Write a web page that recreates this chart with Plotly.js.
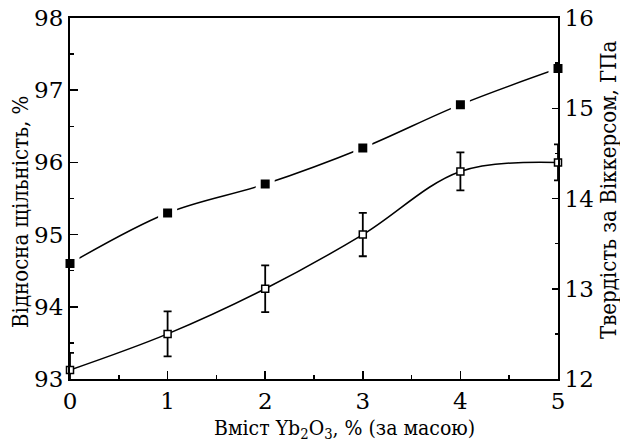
<!DOCTYPE html>
<html>
<head>
<meta charset="utf-8">
<script src="https://cdn.plot.ly/plotly-3.0.1.min.js"></script>
<style>html,body{margin:0;padding:0;background:#fff;}#chart{width:620px;height:444px;}</style>
</head>
<body>
<div id="chart"></div>
<script>
// Yb2O3 content, % (by mass)
const ybContent = [0, 1, 2, 3, 4, 5];
// Relative density, % (left axis, filled squares)
const relDensity = [94.6, 95.3, 95.7, 96.2, 96.8, 97.3];
// Vickers hardness, GPa (right axis, open squares)
const hardness = [12.1, 12.5, 13.0, 13.6, 14.3, 14.4];
const hardnessErr = [0.19, 0.25, 0.26, 0.24, 0.21, 0.2];

const xTitle = 'Вміст Yb<sub>2</sub>O<sub>3</sub>, % (за масою)';
const yTitle = 'Відносна щільність, %';
const y2Title = 'Твердість за Віккерсом, ГПа';

const tickFont = {family: 'DejaVu Serif', size: 23, color: '#000'};
const titleFont = {family: 'DejaVu Serif Condensed, DejaVu Serif', size: 22, color: '#000'};
const xTitleFont = {family: 'DejaVu Serif Condensed, DejaVu Serif', size: 21, color: '#000'};

const traces = [
  {
    x: ybContent, y: relDensity, yaxis: 'y', type: 'scatter', mode: 'lines+markers',
    line: {color: '#000', width: 1.5, shape: 'spline', smoothing: 1},
    marker: {symbol: 'square', size: 14, color: '#000', line: {color: '#fff', width: 5}},
    cliponaxis: false, showlegend: false
  },
  {
    x: ybContent, y: hardness, yaxis: 'y2', type: 'scatter', mode: 'lines+markers',
    line: {color: '#000', width: 1.5, shape: 'spline', smoothing: 1},
    marker: {symbol: 'square', size: 7, color: '#fff', line: {color: '#000', width: 1.5}},
    error_y: {type: 'data', array: hardnessErr, visible: true, color: '#000', thickness: 1.8, width: 4},
    cliponaxis: false, showlegend: false
  }
];

const layout = {
  width: 620, height: 444,
  margin: {l: 70, r: 62, t: 18, b: 65},
  paper_bgcolor: '#fff', plot_bgcolor: '#fff',
  font: {family: 'DejaVu Serif', size: 20, color: '#000'},
  xaxis: {
    range: [0, 5], dtick: 1, tick0: 0,
    showgrid: false, zeroline: false,
    showline: true, linecolor: '#000', linewidth: 2, mirror: true,
    ticks: 'inside', ticklen: 8, tickwidth: 1.5, tickcolor: '#000',
    minor: {dtick: 0.5, ticks: 'inside', ticklen: 4, tickwidth: 1.5, tickcolor: '#000'},
    tickfont: tickFont
  },
  yaxis: {
    range: [93, 98], dtick: 1,
    showgrid: false, zeroline: false,
    showline: true, linecolor: '#000', linewidth: 2,
    ticks: 'inside', ticklen: 8, tickwidth: 1.5, tickcolor: '#000',
    minor: {dtick: 0.5, ticks: 'inside', ticklen: 4, tickwidth: 1.5, tickcolor: '#000'},
    tickfont: tickFont
  },
  yaxis2: {
    range: [12, 16], dtick: 1, overlaying: 'y', side: 'right',
    showgrid: false, zeroline: false,
    showline: true, linecolor: '#000', linewidth: 2,
    ticks: 'inside', ticklen: 6, tickwidth: 1.5, tickcolor: '#000',
    minor: {dtick: 0.5, ticks: 'inside', ticklen: 3, tickwidth: 1.5, tickcolor: '#000'},
    tickfont: tickFont
  },
  annotations: [
    {text: xTitle, xref: 'paper', yref: 'paper', x: 0.5635, y: -0.138,
     xanchor: 'center', yanchor: 'middle', showarrow: false, font: xTitleFont},
    {text: yTitle, xref: 'paper', yref: 'paper', x: -0.1025, y: 0.4626, textangle: -90,
     xanchor: 'center', yanchor: 'middle', showarrow: false, font: titleFont},
    {text: y2Title, xref: 'paper', yref: 'paper', x: 1.1025, y: 0.5235, textangle: -90,
     xanchor: 'center', yanchor: 'middle', showarrow: false, font: titleFont}
  ]
};

Plotly.newPlot('chart', traces, layout, {displayModeBar: false, staticPlot: true});
</script>
</body>
</html>
